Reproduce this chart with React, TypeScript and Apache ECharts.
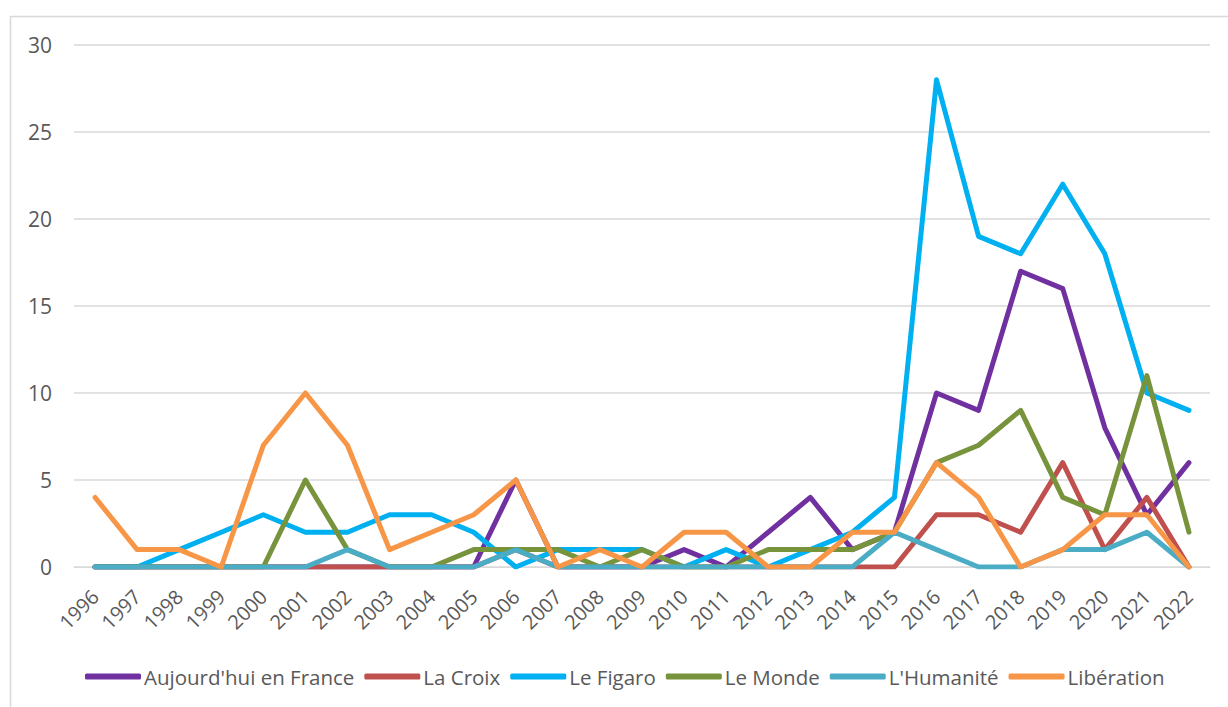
import React, { useEffect, useRef } from "react";
import * as echarts from "echarts";

const years = [
  "1996", "1997", "1998", "1999", "2000", "2001", "2002", "2003", "2004",
  "2005", "2006", "2007", "2008", "2009", "2010", "2011", "2012", "2013",
  "2014", "2015", "2016", "2017", "2018", "2019", "2020", "2021", "2022",
];

const aujourdhui = [0, 0, 0, 0, 0, 0, 0, 0, 0, 0, 5, 0, 0, 0, 1, 0, 2, 4, 1, 2, 10, 9, 17, 16, 8, 3, 6];
const laCroix = [0, 0, 0, 0, 0, 0, 0, 0, 0, 0, 1, 0, 0, 0, 0, 0, 0, 0, 0, 0, 3, 3, 2, 6, 1, 4, 0];
const leFigaro = [0, 0, 1, 2, 3, 2, 2, 3, 3, 2, 0, 1, 1, 1, 0, 1, 0, 1, 2, 4, 28, 19, 18, 22, 18, 10, 9];
const leMonde = [0, 0, 0, 0, 0, 5, 1, 0, 0, 1, 1, 1, 0, 1, 0, 0, 1, 1, 1, 2, 6, 7, 9, 4, 3, 11, 2];
const lHumanite = [0, 0, 0, 0, 0, 0, 1, 0, 0, 0, 1, 0, 0, 0, 0, 0, 0, 0, 0, 2, 1, 0, 0, 1, 1, 2, 0];
const liberation = [4, 1, 1, 0, 7, 10, 7, 1, 2, 3, 5, 0, 1, 0, 2, 2, 0, 0, 2, 2, 6, 4, 0, 1, 3, 3, 0];

const seriesNames = ["Aujourd'hui en France", "La Croix", "Le Figaro", "Le Monde", "L'Humanité", "Libération"];
const seriesData = [aujourdhui, laCroix, leFigaro, leMonde, lHumanite, liberation];
const colors = ["#7030A0", "#C0504D", "#00B0F0", "#77933C", "#4BACC6", "#F79646"];

const FONT = "'Open Sans', sans-serif";

export default function App() {
  const ref = useRef<HTMLDivElement>(null);
  useEffect(() => {
    if (!ref.current) return;
    const chart = echarts.init(ref.current, null, { renderer: "svg" });
    chart.setOption({
      animation: false,
      backgroundColor: "#ffffff",
      color: colors,
      graphic: [
        {
          type: "rect",
          shape: { x: 10.5, y: 16.5, width: 1240, height: 720 },
          style: { fill: "none", stroke: "#d9d9d9", lineWidth: 1.5 },
          silent: true,
        },
      ],
      grid: { left: 74, right: 18, top: 45, bottom: 140, containLabel: false },
      legend: {
        top: 661,
        left: 80,
        itemWidth: 56,
        itemHeight: 6,
        itemGap: 10,
        icon: "roundRect",
        data: seriesNames,
        textStyle: { fontFamily: FONT, fontSize: 20.5, color: "#595959", padding: [0, 0, 0, -2] },
      },
      xAxis: {
        type: "category",
        data: years,
        boundaryGap: true,
        axisLine: { show: true, lineStyle: { color: "#d9d9d9", width: 1 } },
        axisTick: { show: false },
        axisLabel: {
          rotate: 45,
          interval: 0,
          margin: 26,
          fontFamily: FONT,
          fontSize: 20,
          color: "#595959",
        },
      },
      yAxis: {
        type: "value",
        min: 0,
        max: 30,
        interval: 5,
        axisLine: { show: false },
        axisTick: { show: false },
        splitLine: { lineStyle: { color: "#d9d9d9", width: 1.5 } },
        axisLabel: { fontFamily: FONT, fontSize: 21, color: "#595959", margin: 22 },
      },
      series: seriesNames.map((name, i) => ({
        name,
        type: "line",
        data: seriesData[i],
        showSymbol: false,
        symbol: "none",
        lineStyle: { width: 5, color: colors[i], cap: "round", join: "round" },
        itemStyle: { color: colors[i] },
      })),
    });
    return () => chart.dispose();
  }, []);
  return (
    <div
      ref={ref}
      style={{ position: "fixed", left: 0, top: 0, width: 1228, height: 707 }}
    />
  );
}
